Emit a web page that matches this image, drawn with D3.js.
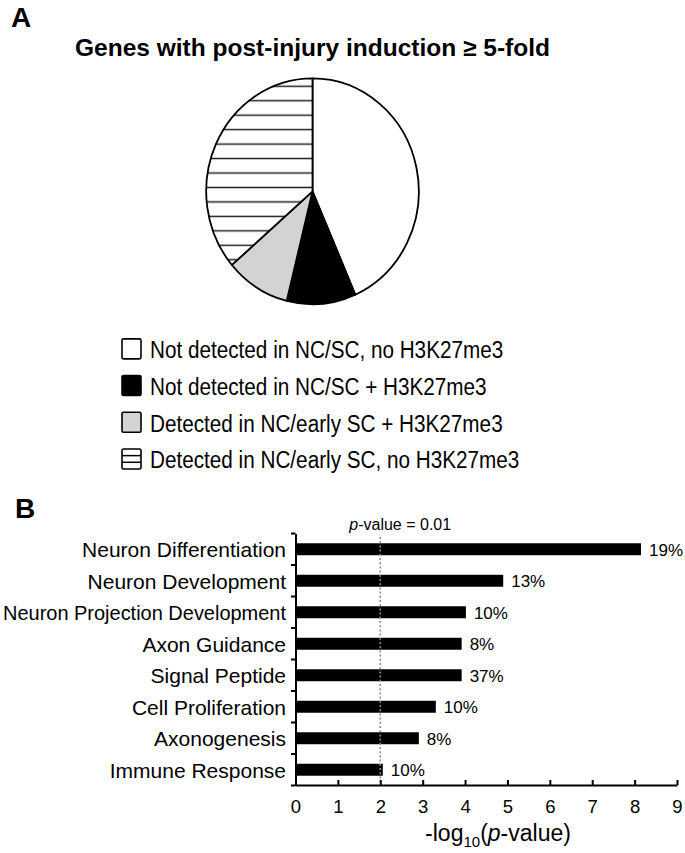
<!DOCTYPE html>
<html>
<head>
<meta charset="utf-8">
<script src="https://cdn.jsdelivr.net/npm/d3@7"></script>
<style>
    body { margin: 0; background: #fff; }
    text { font-family: "Liberation Sans", Arial, Helvetica, sans-serif; fill: #000; }
</style>
</head>
<body>
<div id="chart"></div>
<script>
// panel A - pie of induced genes
let pieLabels = [
    "Not detected in NC/SC, no H3K27me3",
    "Not detected in NC/SC + H3K27me3",
    "Detected in NC/early SC + H3K27me3",
    "Detected in NC/early SC, no H3K27me3"
];
let pieValues = [43.4, 10.5, 9.8, 36.3];

// panel B - enrichment bars
let categories = [
    "Neuron Differentiation",
    "Neuron Development",
    "Neuron Projection Development",
    "Axon Guidance",
    "Signal Peptide",
    "Cell Proliferation",
    "Axonogenesis",
    "Immune Response"
];
let logP = [8.15, 4.9, 4.02, 3.92, 3.92, 3.31, 2.91, 2.06];
let percents = ["19%", "13%", "10%", "8%", "37%", "10%", "8%", "10%"];
let xTicks = [0, 1, 2, 3, 4, 5, 6, 7, 8, 9];
let threshold = 2; // p = 0.01

let pieFills = ['#fff', '#000', '#d3d3d3', 'url(#stripes)'];

let svg = d3.select('#chart').append('svg')
    .attr('width', 685)
    .attr('height', 853)
    .style('background', '#fff');

let defs = svg.append('defs');

// ---------- A ----------
svg.append('text')
    .attr('x', 11).attr('y', 27)
    .style('font-size', '28px').style('font-weight', 'bold')
    .text('A');

svg.append('text')
    .attr('x', 312.5).attr('y', 56)
    .attr('text-anchor', 'middle')
    .attr('textLength', 475)
    .attr('lengthAdjust', 'spacingAndGlyphs')
    .style('font-size', '24px').style('font-weight', 'bold')
    .text('Genes with post-injury induction \u2265 5-fold');

let rx = 106.3, ry = 113;
let stripeGap = 13.6;

let stripes = defs.append('pattern')
    .attr('id', 'stripes')
    .attr('patternUnits', 'userSpaceOnUse')
    .attr('width', 40)
    .attr('height', stripeGap)
    .attr('y', -98.8 - stripeGap / 2);
stripes.append('rect')
    .attr('width', 40).attr('height', stripeGap)
    .attr('fill', '#fff');
stripes.append('line')
    .attr('x1', 0).attr('x2', 40)
    .attr('y1', stripeGap / 2).attr('y2', stripeGap / 2)
    .attr('stroke', '#1a1a1a')
    .attr('stroke-width', 1.5);

let pieG = svg.append('g')
    .attr('transform', 'translate(312.5,191.3) scale(1,' + (ry / rx) + ')');

let pie = d3.pie().sort(null);
let arc = d3.arc().innerRadius(0).outerRadius(rx);

pieG.selectAll('path')
    .data(pie(pieValues))
    .enter().append('path')
    .attr('d', arc)
    .attr('fill', function (d, i) { return pieFills[i]; })
    .attr('stroke', '#000')
    .attr('stroke-width', 1.8)
    .attr('stroke-linejoin', 'round')
    .attr('vector-effect', 'non-scaling-stroke');

// legend
let legendY = d3.scaleBand()
    .domain(pieLabels)
    .range([330.5, 330.5 + pieLabels.length * 36.7]);

let legend = svg.selectAll('.legend')
    .data(pieLabels)
    .enter().append('g')
    .attr('class', 'legend')
    .attr('transform', function (d) {
        return 'translate(0,' + (legendY(d) + legendY.bandwidth() / 2) + ')';
    });

legend.append('rect')
    .attr('x', 122).attr('y', -10)
    .attr('width', 19).attr('height', 20)
    .attr('rx', 1.5)
    .attr('fill', function (d, i) { return i === 3 ? '#fff' : pieFills[i]; })
    .attr('stroke', '#000')
    .attr('stroke-width', 1.6);

legend.filter(function (d, i) { return i === 3; })
    .selectAll('line')
    .data([1, 2])
    .enter().append('line')
    .attr('x1', 122).attr('x2', 141)
    .attr('y1', function (k) { return -10 + k * 20 / 3; })
    .attr('y2', function (k) { return -10 + k * 20 / 3; })
    .attr('stroke', '#000')
    .attr('stroke-width', 1.5);

legend.append('text')
    .attr('x', 150).attr('y', 9.5)
    .style('font-size', '23px')
    .text(function (d) { return d; })
    .each(function () {
        let w = this.getComputedTextLength();
        d3.select(this)
            .attr('textLength', w * 0.9)
            .attr('lengthAdjust', 'spacingAndGlyphs');
    });

// ---------- B ----------
svg.append('text')
    .attr('x', 15).attr('y', 518)
    .style('font-size', '28px').style('font-weight', 'bold')
    .text('B');

let x = d3.scaleLinear()
    .domain([0, 9])
    .range([295.5, 677]);

let y = d3.scaleBand()
    .domain(categories)
    .range([533.5, 785.5])
    .paddingInner(0.62)
    .paddingOuter(0.31);

svg.append('g')
    .selectAll('rect')
    .data(logP)
    .enter().append('rect')
    .attr('x', x(0))
    .attr('y', function (d, i) { return y(categories[i]); })
    .attr('width', function (d) { return x(d) - x(0); })
    .attr('height', y.bandwidth())
    .attr('fill', '#000');

svg.append('g')
    .selectAll('text')
    .data(logP)
    .enter().append('text')
    .attr('x', function (d) { return x(d) + 8; })
    .attr('y', function (d, i) { return y(categories[i]) + y.bandwidth() / 2; })
    .attr('dy', '0.37em')
    .style('font-size', '17px')
    .text(function (d, i) { return percents[i]; });

// threshold line
svg.append('line')
    .attr('x1', x(threshold)).attr('x2', x(threshold))
    .attr('y1', 537).attr('y2', 784)
    .attr('stroke', '#8c8c8c')
    .attr('stroke-width', 1.6)
    .attr('stroke-dasharray', '2,2.2');

let pLabel = svg.append('text')
    .attr('x', x(threshold) - 31).attr('y', 530)
    .style('font-size', '16px');
pLabel.append('tspan').style('font-style', 'italic').text('p');
pLabel.append('tspan').text('-value = 0.01');

// x axis
let xAxis = svg.append('g')
    .attr('transform', 'translate(0,785)')
    .call(d3.axisBottom(x).tickValues(xTicks).tickSize(-5).tickSizeOuter(0).tickPadding(15));
xAxis.select('.domain').attr('stroke', '#000').attr('stroke-width', 2);
xAxis.selectAll('.tick line').attr('stroke', '#000').attr('stroke-width', 2);
xAxis.selectAll('.tick text')
    .style('font-size', '18.5px')
    .style('font-family', '"Liberation Sans", Arial, sans-serif')
    .attr('fill', '#000');

// y axis
let yAxis = svg.append('g')
    .attr('transform', 'translate(' + x(0) + ',0)')
    .call(d3.axisLeft(y).tickSize(0).tickSizeOuter(0).tickPadding(9.5));
yAxis.select('.domain').attr('stroke', '#000').attr('stroke-width', 2);
yAxis.selectAll('.tick text')
    .attr('dy', '0.38em')
    .style('font-size', '21px')
    .style('font-family', '"Liberation Sans", Arial, sans-serif')
    .attr('fill', '#000')
    .each(function () {
        // keep the long label inside the page
        let w = this.getComputedTextLength();
        if (w > 283) {
            d3.select(this)
                .attr('textLength', 283)
                .attr('lengthAdjust', 'spacingAndGlyphs');
        }
    });

let bounds = d3.range(categories.length + 1).map(function (i) {
    return y.range()[0] + i * y.step();
});
yAxis.selectAll('.bound')
    .data(bounds)
    .enter().append('line')
    .attr('class', 'bound')
    .attr('x1', -4.5).attr('x2', 0)
    .attr('y1', function (d) { return d; })
    .attr('y2', function (d) { return d; })
    .attr('stroke', '#000')
    .attr('stroke-width', 2);

// axis title
let xTitle = svg.append('text')
    .attr('x', 498).attr('y', 841)
    .attr('text-anchor', 'middle')
    .style('font-size', '23px');
xTitle.append('tspan').text('-log');
xTitle.append('tspan').attr('dy', 6).style('font-size', '15px').text('10');
xTitle.append('tspan').attr('dy', -6).text('(');
xTitle.append('tspan').style('font-style', 'italic').text('p');
xTitle.append('tspan').text('-value)');
</script>
</body>
</html>
